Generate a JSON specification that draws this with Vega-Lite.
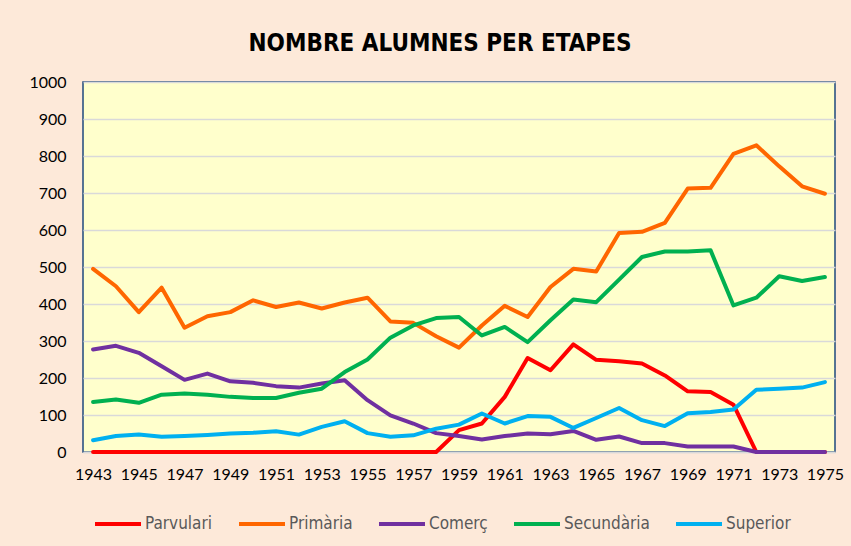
{
  "$schema": "https://vega.github.io/schema/vega-lite/v6.json",
  "width": 752,
  "height": 370,
  "autosize": {"type": "none"},
  "padding": {"left": 83, "top": 82, "right": 16, "bottom": 94},
  "background": "#FDE9D9",
  "title": {
    "text": "NOMBRE ALUMNES PER ETAPES",
    "font": "DejaVu Sans Condensed",
    "fontWeight": "bold",
    "fontSize": 24,
    "color": "#000000",
    "anchor": "middle",
    "baseline": "alphabetic",
    "offset": 32,
    "dx": -19,
    "dy": 33
  },
  "config": {
    "view": {"fill": "#FFFFCC", "stroke": "#1F497D", "strokeWidth": 1.5},
    "axis": {"labelFont": "Lato", "labelFontSize": 16, "labelColor": "#000000", "ticks": false, "title": null},
    "legend": {"labelFont": "DejaVu Sans Condensed", "labelFontSize": 17, "labelColor": "#595959"}
  },
  "data": {
    "values": [
      {"year": 1943, "series": "Parvulari", "value": 0},
      {"year": 1944, "series": "Parvulari", "value": 0},
      {"year": 1945, "series": "Parvulari", "value": 0},
      {"year": 1946, "series": "Parvulari", "value": 0},
      {"year": 1947, "series": "Parvulari", "value": 0},
      {"year": 1948, "series": "Parvulari", "value": 0},
      {"year": 1949, "series": "Parvulari", "value": 0},
      {"year": 1950, "series": "Parvulari", "value": 0},
      {"year": 1951, "series": "Parvulari", "value": 0},
      {"year": 1952, "series": "Parvulari", "value": 0},
      {"year": 1953, "series": "Parvulari", "value": 0},
      {"year": 1954, "series": "Parvulari", "value": 0},
      {"year": 1955, "series": "Parvulari", "value": 0},
      {"year": 1956, "series": "Parvulari", "value": 0},
      {"year": 1957, "series": "Parvulari", "value": 0},
      {"year": 1958, "series": "Parvulari", "value": 0},
      {"year": 1959, "series": "Parvulari", "value": 59},
      {"year": 1960, "series": "Parvulari", "value": 77},
      {"year": 1961, "series": "Parvulari", "value": 149},
      {"year": 1962, "series": "Parvulari", "value": 254},
      {"year": 1963, "series": "Parvulari", "value": 221},
      {"year": 1964, "series": "Parvulari", "value": 291},
      {"year": 1965, "series": "Parvulari", "value": 249},
      {"year": 1966, "series": "Parvulari", "value": 245},
      {"year": 1967, "series": "Parvulari", "value": 239},
      {"year": 1968, "series": "Parvulari", "value": 207},
      {"year": 1969, "series": "Parvulari", "value": 164},
      {"year": 1970, "series": "Parvulari", "value": 162},
      {"year": 1971, "series": "Parvulari", "value": 128},
      {"year": 1972, "series": "Parvulari", "value": 0},
      {"year": 1973, "series": "Parvulari", "value": 0},
      {"year": 1974, "series": "Parvulari", "value": 0},
      {"year": 1975, "series": "Parvulari", "value": 0},
      {"year": 1943, "series": "Primària", "value": 495},
      {"year": 1944, "series": "Primària", "value": 448},
      {"year": 1945, "series": "Primària", "value": 378},
      {"year": 1946, "series": "Primària", "value": 444},
      {"year": 1947, "series": "Primària", "value": 336},
      {"year": 1948, "series": "Primària", "value": 367},
      {"year": 1949, "series": "Primària", "value": 378},
      {"year": 1950, "series": "Primària", "value": 410},
      {"year": 1951, "series": "Primària", "value": 392},
      {"year": 1952, "series": "Primària", "value": 404},
      {"year": 1953, "series": "Primària", "value": 388},
      {"year": 1954, "series": "Primària", "value": 404},
      {"year": 1955, "series": "Primària", "value": 417},
      {"year": 1956, "series": "Primària", "value": 353},
      {"year": 1957, "series": "Primària", "value": 349},
      {"year": 1958, "series": "Primària", "value": 313},
      {"year": 1959, "series": "Primària", "value": 282},
      {"year": 1960, "series": "Primària", "value": 342},
      {"year": 1961, "series": "Primària", "value": 395},
      {"year": 1962, "series": "Primària", "value": 365},
      {"year": 1963, "series": "Primària", "value": 446},
      {"year": 1964, "series": "Primària", "value": 495},
      {"year": 1965, "series": "Primària", "value": 488},
      {"year": 1966, "series": "Primària", "value": 592},
      {"year": 1967, "series": "Primària", "value": 595},
      {"year": 1968, "series": "Primària", "value": 619},
      {"year": 1969, "series": "Primària", "value": 712},
      {"year": 1970, "series": "Primària", "value": 714},
      {"year": 1971, "series": "Primària", "value": 806},
      {"year": 1972, "series": "Primària", "value": 829},
      {"year": 1973, "series": "Primària", "value": 772},
      {"year": 1974, "series": "Primària", "value": 718},
      {"year": 1975, "series": "Primària", "value": 698},
      {"year": 1943, "series": "Comerç", "value": 277},
      {"year": 1944, "series": "Comerç", "value": 287},
      {"year": 1945, "series": "Comerç", "value": 268},
      {"year": 1946, "series": "Comerç", "value": 232},
      {"year": 1947, "series": "Comerç", "value": 195},
      {"year": 1948, "series": "Comerç", "value": 212},
      {"year": 1949, "series": "Comerç", "value": 191},
      {"year": 1950, "series": "Comerç", "value": 187},
      {"year": 1951, "series": "Comerç", "value": 178},
      {"year": 1952, "series": "Comerç", "value": 174},
      {"year": 1953, "series": "Comerç", "value": 185},
      {"year": 1954, "series": "Comerç", "value": 194},
      {"year": 1955, "series": "Comerç", "value": 140},
      {"year": 1956, "series": "Comerç", "value": 99},
      {"year": 1957, "series": "Comerç", "value": 77},
      {"year": 1958, "series": "Comerç", "value": 51},
      {"year": 1959, "series": "Comerç", "value": 43},
      {"year": 1960, "series": "Comerç", "value": 34},
      {"year": 1961, "series": "Comerç", "value": 43},
      {"year": 1962, "series": "Comerç", "value": 50},
      {"year": 1963, "series": "Comerç", "value": 48},
      {"year": 1964, "series": "Comerç", "value": 57},
      {"year": 1965, "series": "Comerç", "value": 33},
      {"year": 1966, "series": "Comerç", "value": 42},
      {"year": 1967, "series": "Comerç", "value": 24},
      {"year": 1968, "series": "Comerç", "value": 24},
      {"year": 1969, "series": "Comerç", "value": 15},
      {"year": 1970, "series": "Comerç", "value": 15},
      {"year": 1971, "series": "Comerç", "value": 15},
      {"year": 1972, "series": "Comerç", "value": 0},
      {"year": 1973, "series": "Comerç", "value": 0},
      {"year": 1974, "series": "Comerç", "value": 0},
      {"year": 1975, "series": "Comerç", "value": 0},
      {"year": 1943, "series": "Secundària", "value": 135},
      {"year": 1944, "series": "Secundària", "value": 142},
      {"year": 1945, "series": "Secundària", "value": 133},
      {"year": 1946, "series": "Secundària", "value": 155},
      {"year": 1947, "series": "Secundària", "value": 158},
      {"year": 1948, "series": "Secundària", "value": 155},
      {"year": 1949, "series": "Secundària", "value": 149},
      {"year": 1950, "series": "Secundària", "value": 146},
      {"year": 1951, "series": "Secundària", "value": 146},
      {"year": 1952, "series": "Secundària", "value": 160},
      {"year": 1953, "series": "Secundària", "value": 171},
      {"year": 1954, "series": "Secundària", "value": 216},
      {"year": 1955, "series": "Secundària", "value": 250},
      {"year": 1956, "series": "Secundària", "value": 309},
      {"year": 1957, "series": "Secundària", "value": 342},
      {"year": 1958, "series": "Secundària", "value": 362},
      {"year": 1959, "series": "Secundària", "value": 365},
      {"year": 1960, "series": "Secundària", "value": 315},
      {"year": 1961, "series": "Secundària", "value": 338},
      {"year": 1962, "series": "Secundària", "value": 297},
      {"year": 1963, "series": "Secundària", "value": 356},
      {"year": 1964, "series": "Secundària", "value": 412},
      {"year": 1965, "series": "Secundària", "value": 405},
      {"year": 1966, "series": "Secundària", "value": 466},
      {"year": 1967, "series": "Secundària", "value": 527},
      {"year": 1968, "series": "Secundària", "value": 542},
      {"year": 1969, "series": "Secundària", "value": 542},
      {"year": 1970, "series": "Secundària", "value": 545},
      {"year": 1971, "series": "Secundària", "value": 396},
      {"year": 1972, "series": "Secundària", "value": 417},
      {"year": 1973, "series": "Secundària", "value": 475},
      {"year": 1974, "series": "Secundària", "value": 462},
      {"year": 1975, "series": "Secundària", "value": 473},
      {"year": 1943, "series": "Superior", "value": 32},
      {"year": 1944, "series": "Superior", "value": 43},
      {"year": 1945, "series": "Superior", "value": 47},
      {"year": 1946, "series": "Superior", "value": 41},
      {"year": 1947, "series": "Superior", "value": 43},
      {"year": 1948, "series": "Superior", "value": 46},
      {"year": 1949, "series": "Superior", "value": 50},
      {"year": 1950, "series": "Superior", "value": 52},
      {"year": 1951, "series": "Superior", "value": 56},
      {"year": 1952, "series": "Superior", "value": 47},
      {"year": 1953, "series": "Superior", "value": 68},
      {"year": 1954, "series": "Superior", "value": 83},
      {"year": 1955, "series": "Superior", "value": 51},
      {"year": 1956, "series": "Superior", "value": 41},
      {"year": 1957, "series": "Superior", "value": 45},
      {"year": 1958, "series": "Superior", "value": 63},
      {"year": 1959, "series": "Superior", "value": 74},
      {"year": 1960, "series": "Superior", "value": 104},
      {"year": 1961, "series": "Superior", "value": 77},
      {"year": 1962, "series": "Superior", "value": 97},
      {"year": 1963, "series": "Superior", "value": 95},
      {"year": 1964, "series": "Superior", "value": 65},
      {"year": 1965, "series": "Superior", "value": 92},
      {"year": 1966, "series": "Superior", "value": 119},
      {"year": 1967, "series": "Superior", "value": 86},
      {"year": 1968, "series": "Superior", "value": 70},
      {"year": 1969, "series": "Superior", "value": 105},
      {"year": 1970, "series": "Superior", "value": 108},
      {"year": 1971, "series": "Superior", "value": 115},
      {"year": 1972, "series": "Superior", "value": 168},
      {"year": 1973, "series": "Superior", "value": 171},
      {"year": 1974, "series": "Superior", "value": 174},
      {"year": 1975, "series": "Superior", "value": 189}
    ]
  },
  "mark": {"type": "line", "strokeWidth": 4, "strokeCap": "round", "strokeJoin": "round"},
  "encoding": {
    "x": {
      "field": "year",
      "type": "ordinal",
      "scale": {"type": "point", "padding": 0.44},
      "axis": {
        "values": [1943, 1945, 1947, 1949, 1951, 1953, 1955, 1957, 1959, 1961, 1963, 1965, 1967, 1969, 1971, 1973, 1975],
        "labelAngle": 0,
        "labelPadding": 14,
        "domain": true,
        "domainColor": "#D9D9D9",
        "domainWidth": 1.5,
        "grid": false
      }
    },
    "y": {
      "field": "value",
      "type": "quantitative",
      "scale": {"domain": [0, 1000], "nice": false},
      "axis": {
        "values": [0, 100, 200, 300, 400, 500, 600, 700, 800, 900, 1000],
        "format": "d",
        "labelPadding": 17,
        "domain": false,
        "grid": true,
        "gridColor": "#D9D9D9",
        "gridWidth": 1.5
      }
    },
    "color": {
      "field": "series",
      "type": "nominal",
      "sort": ["Parvulari", "Primària", "Comerç", "Secundària", "Superior"],
      "scale": {
        "domain": ["Parvulari", "Primària", "Comerç", "Secundària", "Superior"],
        "range": ["#FF0000", "#FF6600", "#7030A0", "#00B050", "#00B0F0"]
      },
      "legend": {
        "title": null,
        "orient": "none",
        "direction": "horizontal",
        "legendX": 10,
        "legendY": 417,
        "symbolType": "stroke",
        "symbolSize": 2116,
        "symbolStrokeWidth": 4,
        "labelOffset": 2,
        "columnPadding": 18
      }
    }
  }
}
